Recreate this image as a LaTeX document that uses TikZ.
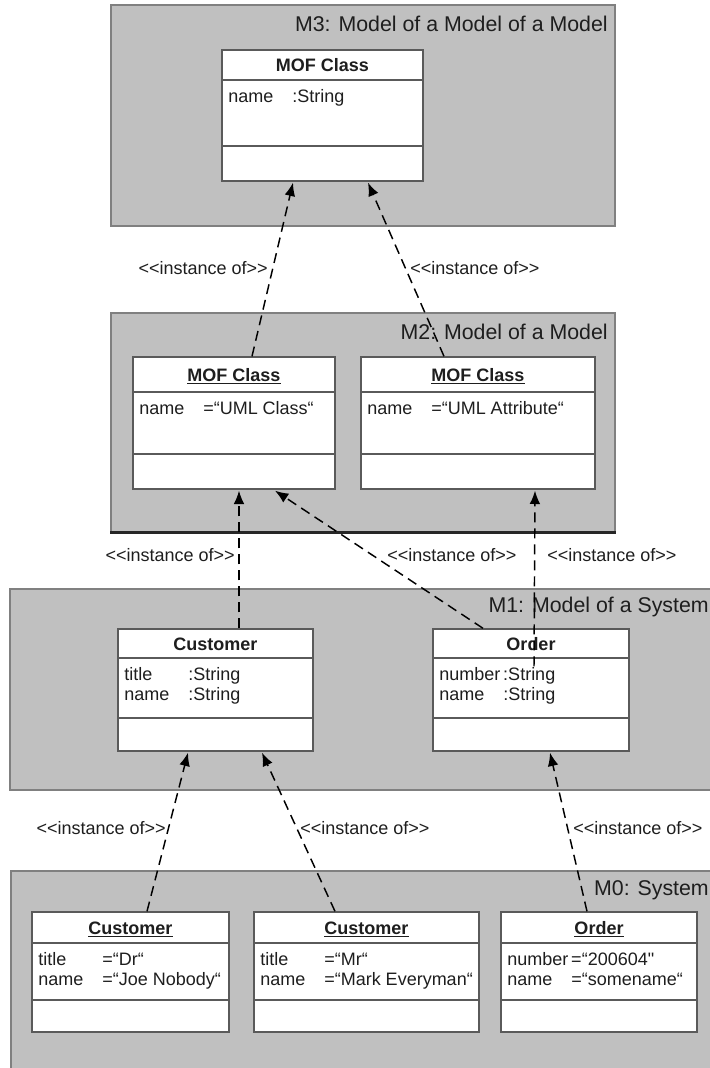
\documentclass[tikz,border=0pt]{standalone}
\usepackage{fontspec}
\setmainfont{Liberation Sans}[Ligatures=TeXOff]
\usetikzlibrary{arrows.meta,calc,fit}
\definecolor{layergray}{HTML}{C0C0C0}
\definecolor{layerline}{HTML}{808080}
\definecolor{boxline}{HTML}{5A5A5A}
\definecolor{inktext}{HTML}{1E1E1E}
\tikzstyle{panel}=[draw=layerline,fill=layergray,line width=1.2pt,inner sep=0pt]
\tikzstyle{layertext}=[anchor=base east,inner sep=0pt,text=inktext,font=\fontsize{16}{19}\selectfont]
\tikzstyle{classbox}=[draw=boxline,fill=white,line width=1pt,inner sep=0pt]
\tikzstyle{divider}=[draw=boxline,line width=1pt]
\tikzstyle{classtitle}=[anchor=base,inner sep=0pt,text=inktext,font=\bfseries\fontsize{13.5}{15}\selectfont]
\tikzstyle{attrtext}=[anchor=north west,inner xsep=4.5pt,inner ysep=0pt,align=left,text=inktext,font=\fontsize{13.5}{15}\selectfont]
\tikzstyle{instof}=[draw=black,line width=1.1pt,dash pattern=on 7.5pt off 4.5pt,-{Latex[length=10pt,width=8pt]}]
\tikzstyle{instlabel}=[inner sep=0pt,text=inktext,font=\fontsize{13.5}{15}\selectfont]
\newcommand{\umlattr}[2]{\strut\makebox[48pt][l]{#1}#2}
\newcommand{\instoftext}{<\kern0pt<instance of>\kern0pt>}

\begin{document}
\begin{tikzpicture}[x=0.75pt,y=-0.75pt]
    \useasboundingbox (0,0) rectangle (710,1068);
    % First the four layers
    \foreach \nm/\xa/\ya/\xb/\yb in {m3panel/111/5/615/226, m2panel/111/313/615/532,
        m1panel/10/589/720/790, m0panel/11/871/720/1080}
        \node[panel, fit={(\xa,\ya) (\xb,\yb)}] (\nm) {};
    \draw[line width=2pt,black!85] (m2panel.south west) -- (m2panel.south east);

    \foreach \pos/\nm/\txt in {{(608,31.5)/m3label/{M3: Model of a Model of a Model}},
        {(608,339.5)/m2label/{M2: Model of a Model}},
        {(709,612.5)/m1label/{M1: Model of a System}},
        {(709,895.5)/m0label/{M0: System}}}
        \node[layertext] (\nm) at \pos {\txt};

    % Then the classes and their instances
    \foreach \name/\xa/\ya/\xb/\yb/\hd/\ad/\chead/\cattrs in {
        m3mof/222/50/423/181/80/146/{MOF Class}/{\umlattr{name}{:String}},
        m2cls/133/357/335/489/392/454/{\underline{MOF Class}}/{\umlattr{name}{=“UML Class“}},
        m2att/361/357/595/489/392/454/{\underline{MOF Class}}/{\umlattr{name}{=“UML Attribute“}},
        m1cust/118/629/313/751/658/718/{Customer}/{\umlattr{title}{:String}\\\umlattr{name}{:String}},
        m1ord/433/629/629/751/658/718/{Order}/{\umlattr{number}{:String}\\\umlattr{name}{:String}},
        m0custa/32/912/229/1032/943/1000/{\underline{Customer}}/{\umlattr{title}{=“Dr“}\\\umlattr{name}{=“Joe Nobody“}},
        m0custb/254/912/479/1032/943/1000/{\underline{Customer}}/{\umlattr{title}{=“Mr“}\\\umlattr{name}{=“Mark Everyman“}},
        m0ord/501/912/697/1032/943/1000/{\underline{Order}}/{\umlattr{number}{=“200604"}\\\umlattr{name}{=“somename“}}}
    {
        \node[classbox, fit={(\xa,\ya) (\xb,\yb)}] (\name) {};
        \draw[divider] (\xa,\hd) -- (\xb,\hd);
        \draw[divider] (\xa,\ad) -- (\xb,\ad);
        \node[classtitle] (\name-head) at ({(\xa+\xb)/2},{(\ya+\hd)/2+6.5}) {\chead};
        \node[attrtext] (\name-attr) at (\xa,{\hd+8}) {\cattrs};
    }

    % Connect instances with their classes
    \foreach \src/\sx/\sy/\dst/\dx in {m2cls/18/0/m3mof/-29.5, m2att/-34/0/m3mof/45.5,
        m1cust/23.5/0/m2cls/5, m1ord/-48/0/m2cls/41, m1ord/3/38/m2att/57,
        m0custa/16.5/0/m1cust/-27.5, m0custb/-31.5/0/m1cust/46.5, m0ord/-12/0/m1ord/19}
        \draw[instof] ($(\src.north)+(\sx,\sy)$) -- ($(\dst.south)+(\dx,1)$);

    \foreach \pos/\anc/\nm in {{(268,268)/east/io1}, {(410,268)/west/io2},
        {(235,555)/east/io3}, {(387,555)/west/io4}, {(547,555)/west/io5},
        {(166,828)/east/io6}, {(300,828)/west/io7}, {(573,828)/west/io8}}
        \node[instlabel, anchor=\anc] (\nm) at \pos {\instoftext};
\end{tikzpicture}
\end{document}
